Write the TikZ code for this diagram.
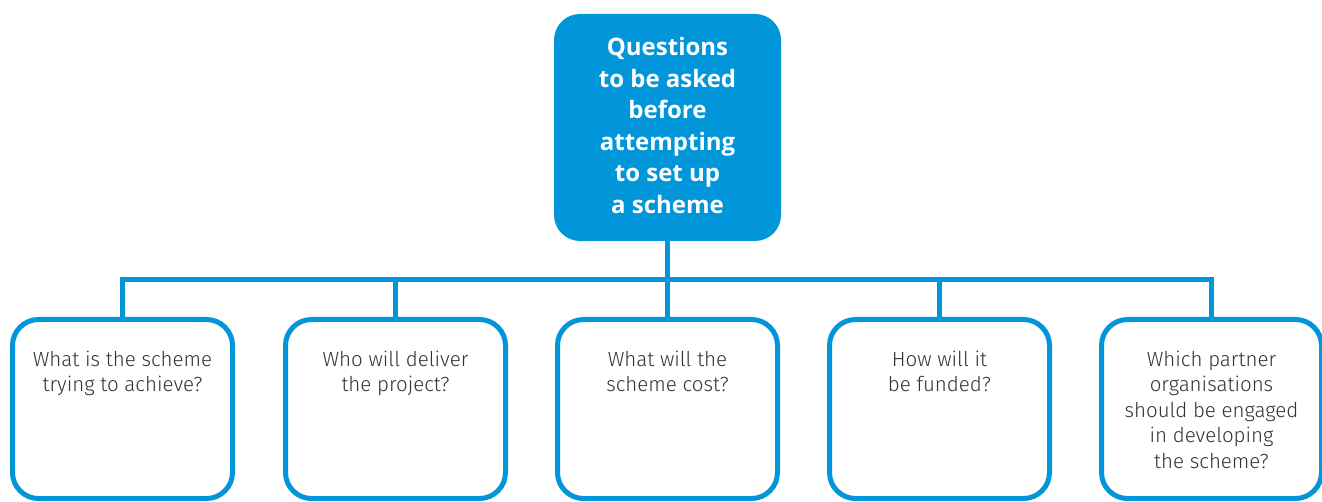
\documentclass[tikz,border=0pt]{standalone}
\usepackage{fontspec}
\setmainfont{Fira Sans}
\newfontfamily\lightsans{Fira Sans Light}
\newfontfamily\headsans{Open Sans}
\definecolor{qblue}{HTML}{0096D9}
\definecolor{qtext}{HTML}{333333}
\begin{document}
\begin{tikzpicture}[x=1pt,y=1pt,
  topbox/.style={fill=qblue, draw=none, rounded corners=26pt, minimum width=227pt, minimum height=227pt, inner sep=0pt},
  qbox/.style={draw=qblue, line width=5pt, fill=white, rounded corners=26pt, minimum width=220pt, minimum height=179pt, inner sep=0pt},
  qtxt/.style={anchor=north, align=center, inner sep=0pt, text=qtext, font=\lightsans\fontsize{20.5}{25.5}\selectfont},
  conn/.style={draw=qblue, line width=5pt}]
\useasboundingbox (0,0) rectangle (1322,-502);
\node[topbox] (top) at (667.5,-127.5) {};
\node[anchor=north, align=center, inner sep=0pt, text=white, font=\headsans\bfseries\fontsize{24}{31.6}\selectfont] (toptxt) at (667.5,-37) {Questions\\to be asked\\before\\attempting\\to set up\\a scheme};
\coordinate (bar) at (0,-280);
\node[qbox] (b1) at (122.5,-409) {};
\node[qbox] (b2) at (395.5,-409) {};
\node[qbox] (b3) at (667.5,-409) {};
\node[qbox] (b4) at (939.5,-409) {};
\node[qbox] (b5) at (1211.5,-409) {};
\draw[conn] (top.south) -- (top.south |- bar);
\draw[conn] (b1.north) -- (b1.north |- bar) -- (b5.north |- bar) -- (b5.north);
\foreach \i in {2,3,4} {\draw[conn] (b\i.north) -- (b\i.north |- bar);}
\node[qtxt] (t1) at (122.5,-350.5) {What is the scheme\\trying to achieve?};
\node[qtxt] (t2) at (395.5,-350.5) {Who will deliver\\the project?};
\node[qtxt] (t3) at (667.5,-350.5) {What will the\\scheme cost?};
\node[qtxt] (t4) at (939.5,-350.5) {How will it\\be funded?};
\node[qtxt] (t5) at (1211.5,-350.5) {Which partner\\organisations\\should be engaged\\in developing\\the scheme?};
\end{tikzpicture}
\end{document}
